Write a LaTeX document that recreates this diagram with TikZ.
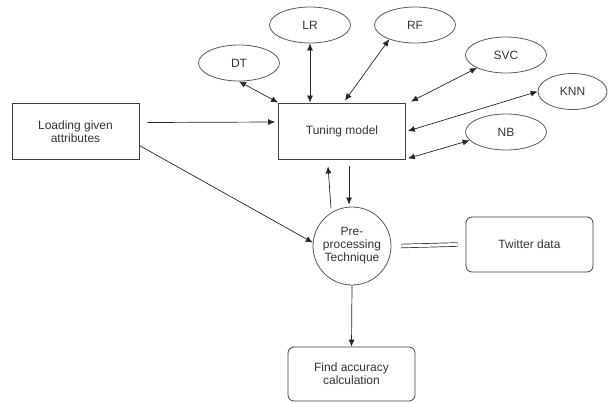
\documentclass[tikz,border=0pt]{standalone}
\usepackage{fontspec}
\setmainfont{Liberation Sans}
\usetikzlibrary{arrows.meta,shapes.geometric}

\begin{document}
\begin{tikzpicture}[x=1pt,y=-1pt,
		font=\fontsize{12}{13}\selectfont,
		box/.style={rectangle,draw=black!75,line width=0.8pt,minimum width=127pt,minimum height=56pt,align=center,text=black!80,inner sep=0pt},
		rbox/.style={box,rounded corners=6pt},
		algo/.style={ellipse,draw=black!65,line width=0.8pt,minimum width=81pt,minimum height=36pt,text=black!80,inner sep=0pt},
		stage/.style={circle,draw=black!65,line width=0.8pt,minimum size=78pt,align=center,text=black!80,inner sep=0pt},
		arr/.style={-{Latex[length=7pt,width=6pt]},line width=0.7pt,draw=black!85},
		barr/.style={{Latex[length=7pt,width=6pt]}-{Latex[length=7pt,width=6pt]},line width=0.7pt,draw=black!85}]
		\useasboundingbox (0,0) rectangle (608,402);
%		\draw[help lines,step=50] (0,0) grid (608,402);
		\path (75.5,131.5) node(load) [box] {Loading given\\attributes};
		\path (342,131) node(tune) [box] {Tuning model};
		\path (352,246) node(pre) [stage] {Pre-\\processing\\Technique};
		\path (529.5,244.5) node(twit) [rbox,minimum height=55pt] {Twitter data};
		\path (351.5,374) node(find) [rbox,minimum height=54pt] {Find accuracy\\calculation};

		\path (239,63) node(dt) [algo] {DT};
		\path (310,25) node(lr) [algo] {LR};
		\path (415,25) node(rf) [algo] {RF};
		\path (506,55) node(svc) [algo] {SVC};
		\path (572.5,91.5) node(knn) [algo,minimum width=69pt] {KNN};
		\path (506,132) node(nb) [algo] {NB};

		\draw[arr] ([xshift=8pt,yshift=9pt]load.east) -- ([xshift=-3pt,yshift=9pt]tune.west);
		\draw[arr] ([yshift=-14pt]load.east) -- (pre.175);
		\draw[barr] (dt.south) -- (tune.north west);
		\draw[barr] (lr.south) -- (lr.south |- tune.north);
		\draw[barr] (rf.209) -- ([xshift=3pt,yshift=2pt]tune.north);
		\draw[barr] (svc.204) -- ([xshift=5pt,yshift=1pt]tune.north east);
		\draw[barr] (knn.west) -- ([xshift=2pt]tune.east);
		\draw[barr] (nb.193) -- ([xshift=2pt,yshift=1pt]tune.south east);
		\draw[arr] ([xshift=-21pt,yshift=38pt]pre.center) -- ([xshift=-14pt,yshift=-7pt]tune.south);
		\draw[arr] ([xshift=7pt,yshift=-7pt]tune.south) -- ([xshift=-3pt,yshift=2pt]pre.north);
		\draw[line width=0.7pt,draw=black!85,double,double distance=3pt] ([xshift=10pt]pre.east) -- ([xshift=-8pt]twit.west);
		\draw[arr] (pre.south) -- (find.north);
\end{tikzpicture}
\end{document}
